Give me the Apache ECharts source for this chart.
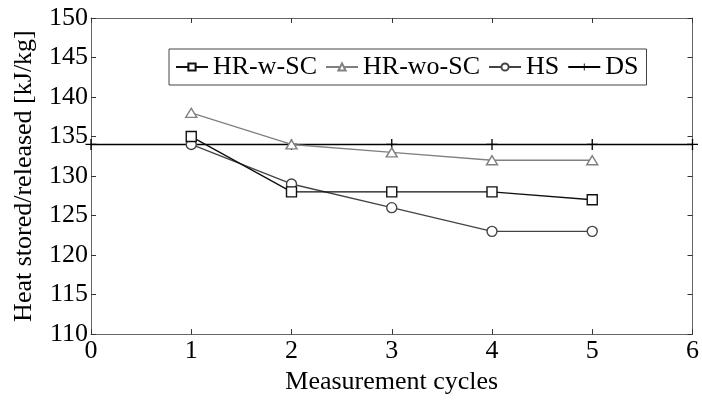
<!DOCTYPE html>
<html>
<head>
<meta charset="utf-8">
<script src="https://cdn.jsdelivr.net/npm/echarts@6/dist/echarts.min.js"></script>
<style>html,body{margin:0;padding:0;background:#fff}#c{width:702px;height:400px}</style>
</head>
<body>
<div id="c"></div>
<script>
var cycles = [1, 2, 3, 4, 5];
var hrWSC = [135, 128, 128, 128, 127];
var hrWoSC = [138, 134, 133, 132, 132];
var hs = [134, 129, 126, 123, 123];
var dsX = [0, 1, 2, 3, 4, 5, 6];
var dsY = [134, 134, 134, 134, 134, 134, 134];
var xTicks = [0, 1, 2, 3, 4, 5, 6];
var yTicks = [110, 115, 120, 125, 130, 135, 140, 145, 150];

function pairs(xs, ys) { return xs.map(function (x, i) { return [x, ys[i]]; }); }

var FONT = "'Liberation Serif','Times New Roman',serif";
var plus = 'path://M4.4,0h1.2v10h-1.2zM0,4.4h10v1.2h-10z';
var chart = echarts.init(document.getElementById('c'), null, {renderer: 'canvas'});
var axisBase = {
  type: 'value',
  axisLine: {show: true, onZero: false, lineStyle: {color: '#666', width: 1}},
  axisTick: {show: true, inside: true, length: 5, lineStyle: {color: '#333', width: 1}},
  splitLine: {show: false}
};
chart.setOption({
  animation: false,
  backgroundColor: '#fff',
  grid: {left: 91, right: 5, top: 18, bottom: 62},
  legend: {
    left: 169, top: 49,
    itemWidth: 32, itemHeight: 9, itemGap: 8,
    padding: [5, 8, 5, 6],
    borderColor: '#444', borderWidth: 1, backgroundColor: '#fff',
    textStyle: {fontFamily: FONT, fontSize: 26, color: '#000'},
    data: ['HR-w-SC', 'HR-wo-SC', 'HS', 'DS']
  },
  xAxis: [
    Object.assign({}, axisBase, {
      min: 0, max: 6, interval: 1, position: 'bottom',
      name: 'Measurement cycles', nameLocation: 'middle', nameGap: 30,
      nameTextStyle: {fontFamily: FONT, fontSize: 26, color: '#000'},
      axisLabel: {fontFamily: FONT, fontSize: 26, color: '#000', margin: 4,
        formatter: function (v) { return xTicks.indexOf(v) >= 0 ? String(v) : ''; }}
    }),
    Object.assign({}, axisBase, {min: 0, max: 6, interval: 1, position: 'top', axisLabel: {show: false}})
  ],
  yAxis: [
    Object.assign({}, axisBase, {
      min: 110, max: 150, interval: 5, position: 'left',
      name: 'Heat stored/released [kJ/kg]', nameLocation: 'middle', nameGap: 54,
      nameTextStyle: {fontFamily: FONT, fontSize: 26, color: '#000'},
      axisLabel: {fontFamily: FONT, fontSize: 26, color: '#000', margin: 3,
        formatter: function (v) { return yTicks.indexOf(v) >= 0 ? String(v) : ''; }}
    }),
    Object.assign({}, axisBase, {min: 110, max: 150, interval: 5, position: 'right', axisLabel: {show: false}})
  ],
  series: [
    {
      name: 'DS', type: 'line', data: pairs(dsX, dsY), z: 1,
      symbol: plus, symbolSize: 11, showAllSymbol: true, clip: false,
      lineStyle: {color: '#000', width: 1.4}, itemStyle: {color: '#000'}
    },
    {
      name: 'HR-w-SC', type: 'line', data: pairs(cycles, hrWSC), z: 3,
      symbol: 'rect', symbolSize: 10,
      lineStyle: {color: '#111', width: 1.4},
      itemStyle: {color: '#fff', borderColor: '#111', borderWidth: 1.4}
    },
    {
      name: 'HR-wo-SC', type: 'line', data: pairs(cycles, hrWoSC), z: 2,
      symbol: 'triangle', symbolSize: [11, 9],
      lineStyle: {color: '#808080', width: 1.4},
      itemStyle: {color: '#fff', borderColor: '#808080', borderWidth: 1.4}
    },
    {
      name: 'HS', type: 'line', data: pairs(cycles, hs), z: 2,
      symbol: 'circle', symbolSize: 10,
      lineStyle: {color: '#444', width: 1.4},
      itemStyle: {color: '#fff', borderColor: '#444', borderWidth: 1.4}
    }
  ]
});
</script>
</body>
</html>
